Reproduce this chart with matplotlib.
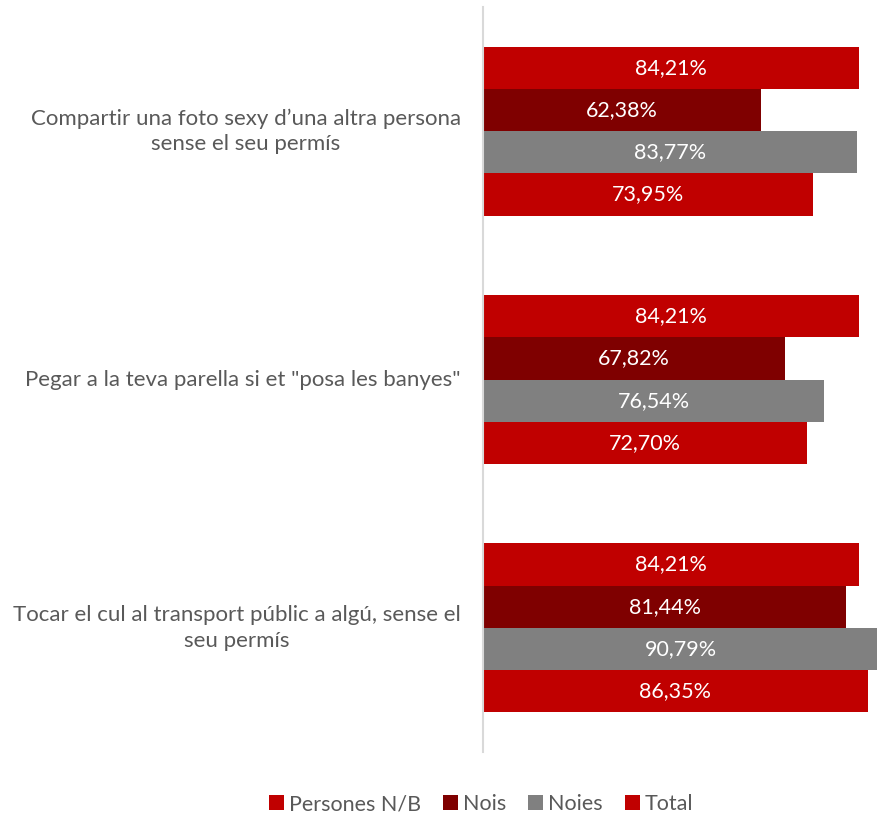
import numpy as np
import matplotlib.pyplot as plt
from matplotlib.patches import Patch

plt.rcParams['font.family'] = ['Lato', 'DejaVu Sans']

# data
categories = ['Compartir una foto sexy d\u2019una altra persona\nsense el seu perm\u00eds',
              'Pegar a la teva parella si et "posa les banyes"',
              'Tocar el cul al transport p\u00fablic a alg\u00fa, sense el\nseu perm\u00eds']
series = ['Persones N/B', 'Nois', 'Noies', 'Total']
nb = [84.21, 84.21, 84.21]
nois = [62.38, 67.82, 81.44]
noies = [83.77, 76.54, 90.79]
total = [73.95, 72.70, 86.35]
colors = ['#C00000', '#7F0000', '#808080', '#C00000']

values = [nb, nois, noies, total]
xmax = 88.57
h = 0.17

fig = plt.figure(figsize=(8.78, 8.15), dpi=100)
ax = fig.add_axes([0.55, 0.0773, 0.45, 0.9141])

y = np.arange(len(categories))
for i, (vals, col) in enumerate(zip(values, colors)):
    pos = y + (i - 1.5) * h
    ax.barh(pos, vals, height=h, color=col, edgecolor='none')
    for p, v in zip(pos, vals):
        lx = min(v, xmax) / 2
        ax.text(lx, p, ('%.2f%%' % v).replace('.', ','), color='white',
                ha='center', va='center', fontsize=15.5)

ax.set_xlim(0, xmax)
ax.set_ylim(len(categories) - 0.5, -0.5)
ax.set_xticks([])
ax.set_yticks(y)
ax.set_yticklabels(categories, fontsize=16, color='#595959',
                   multialignment='center', linespacing=1.35, va='center')
ax.tick_params(axis='y', length=0, pad=16)
for s in ['top', 'right', 'bottom']:
    ax.spines[s].set_visible(False)
ax.spines['left'].set_color('#D9D9D9')
ax.spines['left'].set_linewidth(1.5)

handles = [Patch(facecolor=c, edgecolor='none') for c in colors]
leg = fig.legend(handles, series, loc='center', bbox_to_anchor=(0.548, 0.013),
                 ncol=4, frameon=False, fontsize=15.5, handlelength=0.7,
                 handleheight=0.7, handletextpad=0.25, columnspacing=1.0)
for t in leg.get_texts():
    t.set_color('#595959')

plt.savefig('out.png', dpi=100)
